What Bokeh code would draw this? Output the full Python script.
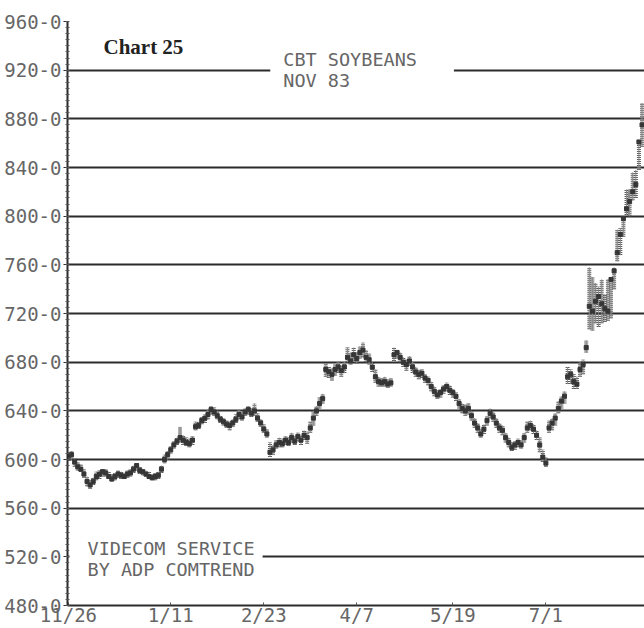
from bokeh.plotting import figure
from bokeh.models import FixedTicker, Label, Range1d
from bokeh.embed import file_html
from bokeh.resources import INLINE

# ---- data (one bar per trading day) ----
closes = [603, 604, 598, 594, 592, 588, 582, 579, 582, 586,
          588, 590, 589, 586, 584, 586, 588, 587, 586, 588,
          589, 592, 595, 591, 590, 588, 586, 585, 586, 587,
          592, 600, 604, 608, 612, 615, 618, 616, 614, 613,
          616, 627, 628, 632, 634, 637, 641, 639, 636, 633,
          631, 629, 628, 630, 633, 637, 635, 639, 641, 638,
          640, 634, 630, 625, 621, 606, 608, 612, 614, 613,
          616, 614, 618, 615, 619, 616, 620, 618, 626, 634,
          640, 646, 650, 674, 672, 670, 674, 676, 673, 676,
          684, 681, 686, 683, 688, 690, 684, 682, 676, 668,
          664, 663, 664, 662, 663, 686, 688, 684, 680, 678,
          681, 676, 672, 670, 671, 667, 665, 660, 656, 653,
          655, 658, 660, 657, 655, 652, 646, 642, 640, 642,
          636, 630, 626, 621, 625, 632, 638, 635, 630, 626,
          624, 618, 614, 610, 612, 614, 612, 618, 626, 628,
          625, 620, 612, 602, 597, 626, 630, 634, 642, 648,
          652, 668, 670, 664, 662, 674, 678, 692, 726, 722,
          730, 734, 728, 724, 722, 748, 755, 770, 785, 798,
          806, 812, 820, 826, 861, 875]

highs = [606, 607, 601, 598, 596, 592, 586, 583, 585, 590,
         591, 592, 592, 590, 588, 589, 591, 590, 589, 591,
         592, 595, 597, 594, 592, 591, 590, 588, 589, 590,
         595, 604, 607, 611, 615, 618, 627, 620, 618, 617,
         619, 631, 631, 635, 637, 641, 644, 643, 640, 636,
         634, 632, 631, 633, 637, 641, 639, 642, 644, 642,
         646, 638, 633, 629, 625, 614, 612, 616, 618, 617,
         619, 618, 622, 619, 622, 620, 624, 623, 631, 640,
         644, 651, 654, 679, 676, 675, 678, 680, 677, 680,
         692, 688, 692, 688, 693, 696, 690, 687, 680, 674,
         668, 667, 668, 666, 667, 692, 690, 688, 684, 682,
         685, 680, 676, 674, 674, 670, 668, 664, 660, 657,
         658, 661, 663, 661, 658, 655, 650, 646, 645, 646,
         640, 634, 630, 625, 629, 636, 642, 639, 634, 630,
         628, 622, 618, 614, 615, 617, 616, 622, 631, 632,
         629, 624, 618, 608, 602, 632, 634, 638, 648, 652,
         656, 676, 674, 670, 668, 680, 682, 698, 758, 750,
         745, 742, 748, 736, 748, 750, 758, 789, 790, 800,
         822, 822, 836, 838, 862, 893]

lows = [599, 600, 594, 591, 590, 585, 578, 576, 579, 583,
        584, 586, 586, 584, 582, 583, 585, 584, 584, 585,
        586, 589, 591, 588, 587, 586, 584, 583, 583, 584,
        589, 597, 600, 605, 609, 612, 614, 612, 611, 610,
        612, 624, 625, 629, 630, 633, 637, 636, 633, 630,
        628, 626, 624, 627, 630, 633, 632, 636, 637, 635,
        636, 631, 627, 622, 618, 602, 604, 609, 610, 610,
        612, 611, 614, 612, 615, 612, 616, 613, 622, 628,
        636, 642, 646, 668, 667, 665, 669, 671, 668, 671,
        680, 678, 681, 679, 683, 684, 680, 678, 672, 663,
        660, 660, 660, 659, 660, 681, 683, 680, 676, 673,
        677, 671, 668, 666, 667, 663, 661, 656, 652, 650,
        651, 654, 656, 653, 651, 648, 642, 638, 636, 637,
        632, 626, 622, 618, 621, 628, 634, 631, 626, 622,
        620, 614, 610, 607, 608, 610, 609, 614, 622, 624,
        621, 616, 606, 598, 594, 622, 624, 628, 638, 642,
        646, 662, 662, 658, 658, 668, 670, 688, 707, 706,
        712, 709, 712, 713, 714, 716, 740, 763, 768, 783,
        801, 800, 813, 815, 838, 857]

days = list(range(len(closes)))

price_ticks = [480, 520, 560, 600, 640, 680, 720, 760, 800, 840, 880, 920, 960]
price_labels = ["480-0", "520-0", "560-0", "600-0", "640-0", "680-0", "720-0",
                "760-0", "800-0", "840-0", "880-0", "920-0", "960-0"]
date_ticks = [0, 33, 63, 93, 124, 154]
date_labels = ["11/26", "1/11", "2/23", "4/7", "5/19", "7/1"]

MONO = "DejaVu Sans Mono"
TXT = "#666666"
INK = "#2b2b2b"

p = figure(width=644, height=628, output_backend="svg", toolbar_location=None,
           x_range=Range1d(-0.3, 185.8), y_range=Range1d(480, 960),
           min_border_left=67, min_border_right=0, min_border_top=21,
           min_border_bottom=21)
p.outline_line_color = None
p.background_fill_color = "white"
p.border_fill_color = "white"

# grid
p.xgrid.grid_line_color = None
p.ygrid.ticker = FixedTicker(ticks=price_ticks)
p.ygrid.grid_line_color = INK
p.ygrid.grid_line_width = 2

# y axis
p.yaxis.ticker = FixedTicker(ticks=price_ticks, minor_ticks=list(range(480, 961, 5)))
p.yaxis.major_label_overrides = dict(zip(price_ticks, price_labels))
p.yaxis.major_label_text_font = MONO
p.yaxis.major_label_text_font_size = "19px"
p.yaxis.major_label_text_color = TXT
p.yaxis.major_label_standoff = 2
p.yaxis.axis_line_color = INK
p.yaxis.axis_line_width = 2
p.yaxis.major_tick_out = 4
p.yaxis.major_tick_in = 0
p.yaxis.minor_tick_out = 2
p.yaxis.minor_tick_in = 2
p.yaxis.major_tick_line_color = INK
p.yaxis.minor_tick_line_color = "#555555"

# x axis
p.xaxis.ticker = FixedTicker(ticks=date_ticks)
p.xaxis.major_label_overrides = dict(zip(date_ticks, date_labels))
p.xaxis.major_label_text_font = MONO
p.xaxis.major_label_text_font_size = "19px"
p.xaxis.major_label_text_color = TXT
p.xaxis.major_label_standoff = -2
p.xaxis.axis_line_color = INK
p.xaxis.axis_line_width = 2
p.xaxis.major_tick_out = 0
p.xaxis.major_tick_in = 3
p.xaxis.major_tick_line_color = "#555555"
p.xaxis.minor_tick_line_color = None

# daily bars: high-low range (dotted like the printout) and close marks
p.segment(x0=days, y0=lows, x1=days, y1=highs, line_color="#5a5a5a",
          line_width=4, line_dash="1 1")
p.segment(x0=days, y0=lows, x1=days, y1=highs, line_color="#8a8a8a",
          line_width=1)
p.scatter(days, closes, marker="square", size=4, fill_color="#363636",
          line_color="#363636")

# titles
p.add_layout(Label(x=65.1, y=942, text="CBT SOYBEANS\nNOV 83",
                   text_font=MONO, text_font_size="18.5px", text_color=TXT,
                   text_baseline="top", text_align="left", text_line_height=1.0,
                   background_fill_color="white",
                   padding=dict(left=13, right=37, top=6, bottom=8)))
p.add_layout(Label(x=0.35, y=539, text="VIDECOM SERVICE\nBY ADP COMTREND",
                   text_font=MONO, text_font_size="18.5px", text_color=TXT,
                   text_baseline="top", text_align="left", text_line_height=1.0,
                   background_fill_color="white",
                   padding=dict(left=18, right=8, top=4, bottom=4)))
p.add_layout(Label(x=11.3, y=948.5, text="Chart 25", text_font="Liberation Serif",
                   text_font_style="bold", text_font_size="21px", text_color="#222222",
                   text_baseline="top", text_align="left"))

open("out.html", "w").write(file_html(p, INLINE))
